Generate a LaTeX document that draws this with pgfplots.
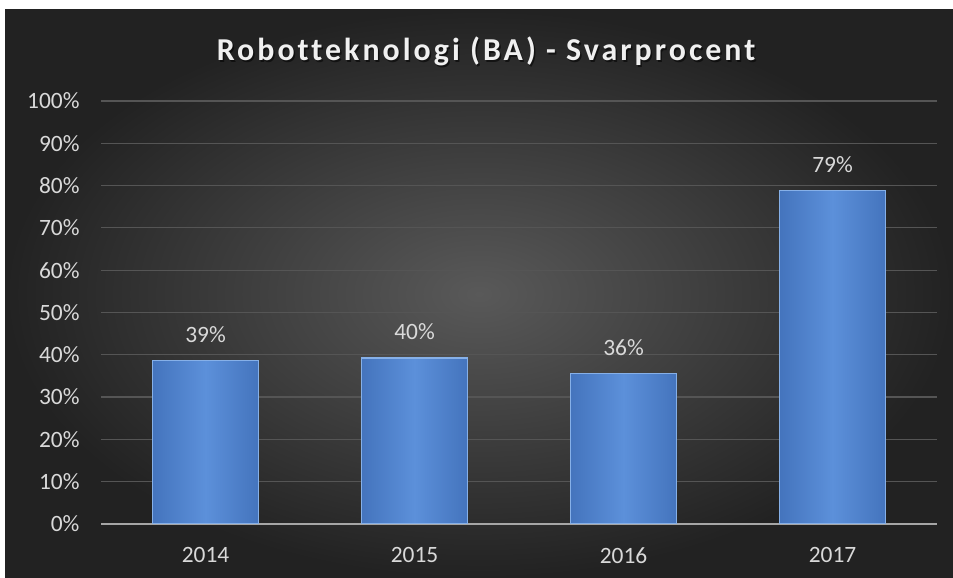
\documentclass[border=0pt]{standalone}
\usepackage{pgfplots}
\pgfplotsset{compat=1.18}
\usepackage{fontspec}
\setmainfont{Carlito}
\newfontfamily\titlefont[LetterSpace=9.5,Ligatures={NoCommon}]{Carlito}
\definecolor{bgin}{HTML}{595959}
\definecolor{bgout}{HTML}{222222}
\definecolor{txt}{HTML}{D9D9D9}
\definecolor{gridc}{HTML}{555555}
\definecolor{axc}{HTML}{A6A6A6}
\definecolor{barl}{HTML}{4474BD}
\definecolor{barm}{HTML}{5C90DA}
\definecolor{bard}{HTML}{86B0E8}
\begin{document}
\begin{tikzpicture}[x=1bp,y=1bp]
\fill[white] (0,0) rectangle (953,578);
\shade[inner color=bgin, outer color=bgout] (5,0) rectangle (953,568);
\node[anchor=base, font=\titlefont\bfseries\fontsize{32}{36}\selectfont, text=black, opacity=0.55] at (487.5,515.5) {Robotteknologi (BA) - Svarprocent};
\node[anchor=base, font=\titlefont\bfseries\fontsize{32}{36}\selectfont, text=white!94!black] at (486,517) {Robotteknologi (BA) - Svarprocent};
\begin{axis}[
  at={(101bp,54bp)}, anchor=south west,
  scale only axis, width=836bp, height=423bp,
  xmin=-0.5, xmax=3.5, ymin=0, ymax=100,
  enlargelimits=false,
  axis x line*=bottom, axis y line*=left,
  y axis line style={draw=none},
  x axis line style={draw=axc, line width=2bp},
  major tick length=0pt,
  xtick={0,1,2,3}, xticklabels={2014,2015,2016,2017},
  ytick={0,10,...,100},
  yticklabels={0\%,10\%,20\%,30\%,40\%,50\%,60\%,70\%,80\%,90\%,100\%},
  ymajorgrids, grid style={draw=gridc, line width=1.2bp},
  ticklabel style={font=\fontsize{23.5}{26}\selectfont, text=txt},
  yticklabel style={xshift=-18bp},
  xticklabel style={yshift=-20bp},
  nodes near coords, point meta=explicit symbolic,
  nodes near coords style={font=\fontsize{23.5}{26}\selectfont, text=txt, anchor=base, yshift=18bp},
  barstyle/.style={ybar, bar width=106bp, bar shift=0pt, draw=bard, line width=1.5bp, left color=barl, right color=barl, middle color=barm},
]
\addplot[barstyle] coordinates {(0,38.7)[39\%]};
\addplot[barstyle] coordinates {(1,39.3)[40\%]};
\addplot[barstyle] coordinates {(2,35.6)[36\%]};
\addplot[barstyle] coordinates {(3,78.8)[79\%]};
\end{axis}
\end{tikzpicture}
\end{document}
